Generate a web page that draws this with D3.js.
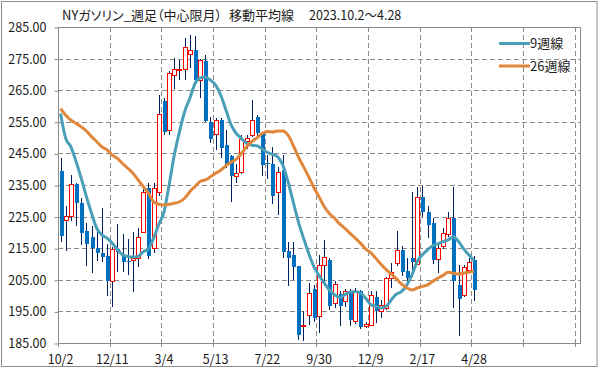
<!DOCTYPE html>
<html lang="ja">
<head>
<meta charset="utf-8">
<title>NYガソリン 週足 移動平均線</title>
<script src="https://cdn.jsdelivr.net/npm/d3@7"></script>
<style>
    body { margin: 0; background: #fff; }
    #vis-container { width: 599px; height: 369px; }
    text { font-family: "Noto Sans CJK JP", "Noto Sans", sans-serif; font-feature-settings: "palt"; fill: #1a1a1a; }
</style>
</head>
<body>
<div id="vis-container"></div>
<script>
// Tick labels for every 10th week
const tickLabels = ["10/2", "12/11", "3/4", "5/13", "7/22", "9/30", "12/9", "2/17", "4/28"];

// Weekly candles
const opens = [239.5, 223.8, 225.3, 235.2, 229.4, 220.5, 218.6, 215.0, 213.5, 212.6,
    204.5, 214.7, 212.9, 211.0, 211.2, 211.8, 220.1, 234.0, 215.0, 232.9,
    261.5, 252.3, 269.7, 271.5, 271.6, 276.3, 277.6, 268.2, 274.2, 255.0,
    251.0, 255.7, 247.6, 244.3, 237.8, 239.2, 248.9, 250.8, 256.4, 251.5,
    242.0, 241.8, 232.9, 239.7, 214.2, 212.9, 209.5, 190.4, 194.0, 202.2,
    193.4, 209.7, 211.3, 197.6, 200.5, 198.4, 201.5, 192.1, 201.3, 190.5,
    190.8, 199.7, 195.0, 196.1, 205.5, 210.2, 214.5, 207.8, 211.8, 210.0,
    231.1, 226.4, 222.9, 211.5, 215.8, 219.4, 224.5, 203.4, 200.1, 208.2,
    211.3];
const highs = [243.7, 228.3, 238.2, 235.5, 231.0, 223.0, 222.0, 220.5, 227.7, 216.4,
    215.5, 222.8, 219.5, 218.0, 220.0, 221.4, 234.5, 235.7, 235.5, 263.5,
    262.6, 271.0, 275.3, 274.5, 281.5, 282.4, 282.2, 275.0, 276.1, 256.6,
    256.3, 256.3, 252.4, 244.5, 241.8, 250.8, 250.8, 261.8, 257.1, 251.8,
    244.5, 247.1, 240.8, 244.5, 217.1, 217.1, 209.5, 195.0, 204.0, 203.4,
    212.9, 217.6, 212.0, 204.5, 201.3, 202.0, 202.2, 202.4, 201.8, 191.8,
    201.3, 201.3, 198.7, 205.8, 210.3, 220.3, 215.8, 211.8, 232.9, 234.5,
    234.8, 228.2, 224.5, 217.1, 221.3, 226.6, 234.3, 209.7, 209.7, 211.8,
    212.4];
const lows = [217.0, 214.0, 223.6, 222.0, 216.0, 209.5, 207.0, 211.0, 210.5, 200.0,
    196.5, 207.5, 207.5, 206.5, 201.0, 209.0, 219.8, 211.5, 213.5, 231.5,
    250.8, 250.8, 265.5, 268.2, 268.2, 272.0, 266.6, 262.4, 254.8, 248.2,
    246.0, 243.4, 240.5, 229.7, 235.5, 238.5, 246.5, 250.3, 250.5, 238.0,
    236.9, 229.0, 225.5, 212.0, 202.9, 205.0, 186.1, 185.5, 190.8, 191.5,
    188.2, 203.0, 195.5, 196.0, 190.3, 196.5, 190.3, 191.0, 189.5, 189.7,
    190.3, 191.3, 192.9, 195.5, 202.4, 209.5, 206.1, 202.9, 206.0, 209.7,
    225.0, 218.2, 210.0, 207.1, 214.8, 218.5, 196.1, 187.1, 199.4, 207.0,
    198.2];
const closes = [219.0, 225.3, 235.2, 229.4, 219.9, 216.4, 215.2, 213.6, 212.1, 204.7,
    214.7, 213.9, 210.5, 210.6, 211.8, 218.6, 232.7, 212.4, 234.0, 257.6,
    251.8, 270.6, 271.6, 271.8, 278.7, 277.6, 268.2, 274.5, 255.2, 249.7,
    255.7, 246.8, 241.3, 238.0, 238.7, 249.4, 250.0, 255.7, 251.3, 241.3,
    241.5, 231.6, 239.0, 213.9, 211.8, 209.2, 187.4, 190.8, 200.8, 192.9,
    209.7, 212.2, 196.6, 203.6, 196.6, 201.3, 192.3, 201.3, 190.0, 190.9,
    200.1, 195.0, 197.1, 205.5, 207.4, 214.4, 207.6, 205.7, 210.6, 231.3,
    226.6, 222.2, 211.3, 215.0, 219.7, 224.5, 204.5, 199.0, 209.0, 210.6,
    201.8];

// Moving averages
const ma9 = [257.6, 249.7, 247.1, 242.4, 237.1, 231.3, 226.0, 221.3, 219.2, 218.2,
    216.6, 214.5, 212.9, 212.4, 212.2, 212.4, 213.9, 214.8, 218.2, 222.5,
    226.5, 235.0, 244.5, 251.8, 258.2, 262.4, 267.1, 268.9, 269.2, 268.2,
    266.6, 263.4, 258.7, 254.0, 251.3, 249.7, 248.2, 247.6, 247.4, 246.4,
    245.3, 244.7, 243.9, 241.3, 236.1, 229.7, 223.4, 218.2, 213.4, 209.2,
    206.4, 204.0, 201.8, 200.3, 199.4, 200.3, 201.1, 201.3, 200.8, 199.2,
    197.2, 196.6, 196.1, 196.6, 198.7, 200.5, 201.3, 203.4, 206.6, 210.8,
    212.9, 214.5, 215.8, 216.4, 217.1, 217.6, 218.6, 217.1, 214.8, 212.9,
    211.0];
const ma26 = [259.2, 257.1, 255.5, 254.5, 253.4, 252.1, 250.3, 248.7, 247.1, 246.1,
    244.5, 243.4, 241.8, 240.3, 238.7, 236.6, 234.5, 232.4, 229.7, 228.9,
    228.7, 228.9, 229.2, 229.7, 230.8, 232.9, 234.5, 236.1, 236.6, 237.6,
    238.7, 239.7, 241.1, 242.2, 243.2, 245.0, 247.1, 248.7, 249.9, 251.3,
    251.9, 251.8, 252.1, 252.1, 250.8, 247.6, 243.9, 240.8, 237.6, 234.2,
    231.3, 228.2, 226.0, 224.5, 222.7, 221.3, 219.7, 218.2, 216.6, 214.8,
    213.6, 211.8, 209.9, 208.2, 206.8, 205.3, 203.6, 202.4, 201.8, 202.4,
    202.9, 203.4, 204.5, 205.5, 206.4, 207.4, 207.1, 206.8, 207.1, 207.4,
    207.6];

const seriesNames = ["9週線", "26週線"];

function main()
{
    const width = 599;
    const height = 369;

    // Plot area
    const plot = { left: 58, right: 580, top: 27, bottom: 343 };

    const categoryCount = 101;
    const gridColor = "#8a8a8a";
    const colors = { up: "#ff0000", down: "#0070c0", wick: "#002060", ma9: "#4a9fb8", ma26: "#e0873c" };

    const svg = d3.select("#vis-container")
        .append("svg")
        .attr("width", width)
        .attr("height", height);

    // Outer frame
    svg.append("rect")
        .attr("x", 1.5).attr("y", 1.5)
        .attr("width", width - 3.5).attr("height", height - 4)
        .attr("fill", "#fff")
        .attr("stroke", "#8c8c8c");

    // Scales
    const xScale = d3.scaleBand()
        .domain(d3.range(categoryCount))
        .range([plot.left, plot.right]);
    const bw = xScale.bandwidth();
    const cx = i => xScale(i) + bw / 2;
    const px = i => Math.round(cx(i));

    const yScale = d3.scaleLinear()
        .domain([185, 285])
        .range([plot.bottom, plot.top]);
    const py = v => Math.round(yScale(v));

    // Horizontal gridlines (dashed)
    const yTicks = d3.range(185, 286, 10);
    svg.append("g")
        .selectAll("line")
        .data(yTicks.slice(1, -1))
        .enter()
        .append("line")
        .attr("x1", plot.left).attr("x2", plot.right)
        .attr("y1", d => py(d) + 0.5)
        .attr("y2", d => py(d) + 0.5)
        .attr("stroke", gridColor)
        .attr("stroke-dasharray", "5,3");

    // Vertical gridlines every 10 weeks
    const xTickIdx = d3.range(10, categoryCount, 10);
    svg.append("g")
        .selectAll("line")
        .data(xTickIdx)
        .enter()
        .append("line")
        .attr("x1", d => Math.round(xScale(d)) + 0.5)
        .attr("x2", d => Math.round(xScale(d)) + 0.5)
        .attr("y1", plot.top).attr("y2", plot.bottom)
        .attr("stroke", gridColor)
        .attr("stroke-dasharray", "5,3");

    // Plot border
    svg.append("rect")
        .attr("x", plot.left + 0.5).attr("y", yScale(285) + 0.5)
        .attr("width", plot.right - plot.left).attr("height", plot.bottom - plot.top)
        .attr("fill", "none")
        .attr("stroke", gridColor);

    // Y axis
    const yAxis = d3.axisLeft(yScale)
        .tickValues(yTicks)
        .tickFormat(d3.format(".2f"))
        .tickSize(4)
        .tickPadding(8);
    const yG = svg.append("g")
        .attr("transform", `translate(${plot.left + 0.5}, 0.5)`)
        .call(yAxis);
    yG.select(".domain").remove();
    yG.selectAll("line").attr("stroke", gridColor);
    yG.selectAll("text").attr("font-size", 12.5).attr("fill", "#1a1a1a")
        .style("font-family", "\"Noto Sans CJK JP\", sans-serif");

    // X tick marks and labels
    svg.append("g")
        .selectAll("line")
        .data(d3.range(0, categoryCount, 10))
        .enter()
        .append("line")
        .attr("x1", d => Math.round(xScale(d)) + 0.5)
        .attr("x2", d => Math.round(xScale(d)) + 0.5)
        .attr("y1", plot.bottom).attr("y2", plot.bottom + 4)
        .attr("stroke", gridColor);

    svg.append("g")
        .selectAll("text")
        .data(tickLabels)
        .enter()
        .append("text")
        .attr("x", (d, i) => cx(i * 10))
        .attr("y", 364)
        .attr("text-anchor", "middle")
        .attr("font-size", 12.5)
        .text(d => d);

    // Candles: wicks
    const candles = svg.append("g");

    candles.selectAll("line")
        .data(opens)
        .enter()
        .append("line")
        .attr("x1", (d, i) => px(i) + 0.5)
        .attr("x2", (d, i) => px(i) + 0.5)
        .attr("y1", (d, i) => py(highs[i]))
        .attr("y2", (d, i) => py(lows[i]))
        .attr("stroke", colors.wick)
        .attr("stroke-width", 1);

    // Candles: bodies (blue filled for down weeks, red outline for up weeks)
    candles.selectAll("rect")
        .data(opens)
        .enter()
        .append("rect")
        .attr("x", (d, i) => closes[i] >= d ? px(i) - 1.5 : px(i) - 1)
        .attr("y", (d, i) => py(Math.max(d, closes[i])) + (closes[i] >= d ? 0.5 : 0))
        .attr("width", (d, i) => closes[i] >= d ? 4 : 4)
        .attr("height", (d, i) => Math.max(1, py(Math.min(d, closes[i])) - py(Math.max(d, closes[i]))))
        .attr("fill", (d, i) => closes[i] >= d ? "#fff" : colors.down)
        .attr("stroke", (d, i) => closes[i] >= d ? colors.up : "none")
        .attr("stroke-width", 1);

    // Moving average lines
    const line = d3.line()
        .x((d, i) => cx(i))
        .y(d => yScale(d))
        .curve(d3.curveMonotoneX);

    svg.append("path")
        .datum(ma9)
        .attr("d", line)
        .attr("fill", "none")
        .attr("stroke", colors.ma9)
        .attr("stroke-width", 3)
        .attr("stroke-linejoin", "round");

    svg.append("path")
        .datum(ma26)
        .attr("d", line)
        .attr("fill", "none")
        .attr("stroke", colors.ma26)
        .attr("stroke-width", 3)
        .attr("stroke-linejoin", "round");

    // Title
    const title = [
        { text: "NYガソリン_週足（中心限月）", x: 62, size: 13 },
        { text: "移動平均線", x: 229, size: 13 },
        { text: "2023.10.2～4.28", x: 309, size: 12.5 }
    ];
    svg.append("g")
        .selectAll("text")
        .data(title)
        .enter()
        .append("text")
        .attr("x", d => d.x)
        .attr("y", 19.5)
        .attr("font-size", d => d.size)
        .text(d => d.text);

    // Legend
    const legendColors = [colors.ma9, colors.ma26];
    const legend = svg.append("g")
        .selectAll("g")
        .data(seriesNames)
        .enter()
        .append("g")
        .attr("transform", (d, i) => `translate(499, ${43.5 + i * 22.5})`);

    legend.append("line")
        .attr("x1", 0).attr("x2", 31)
        .attr("stroke", (d, i) => legendColors[i])
        .attr("stroke-width", 3);

    legend.append("text")
        .attr("x", 31)
        .attr("y", 4.5)
        .attr("font-size", 13)
        .text(d => d);
}

document.addEventListener("DOMContentLoaded", main);
</script>
</body>
</html>
